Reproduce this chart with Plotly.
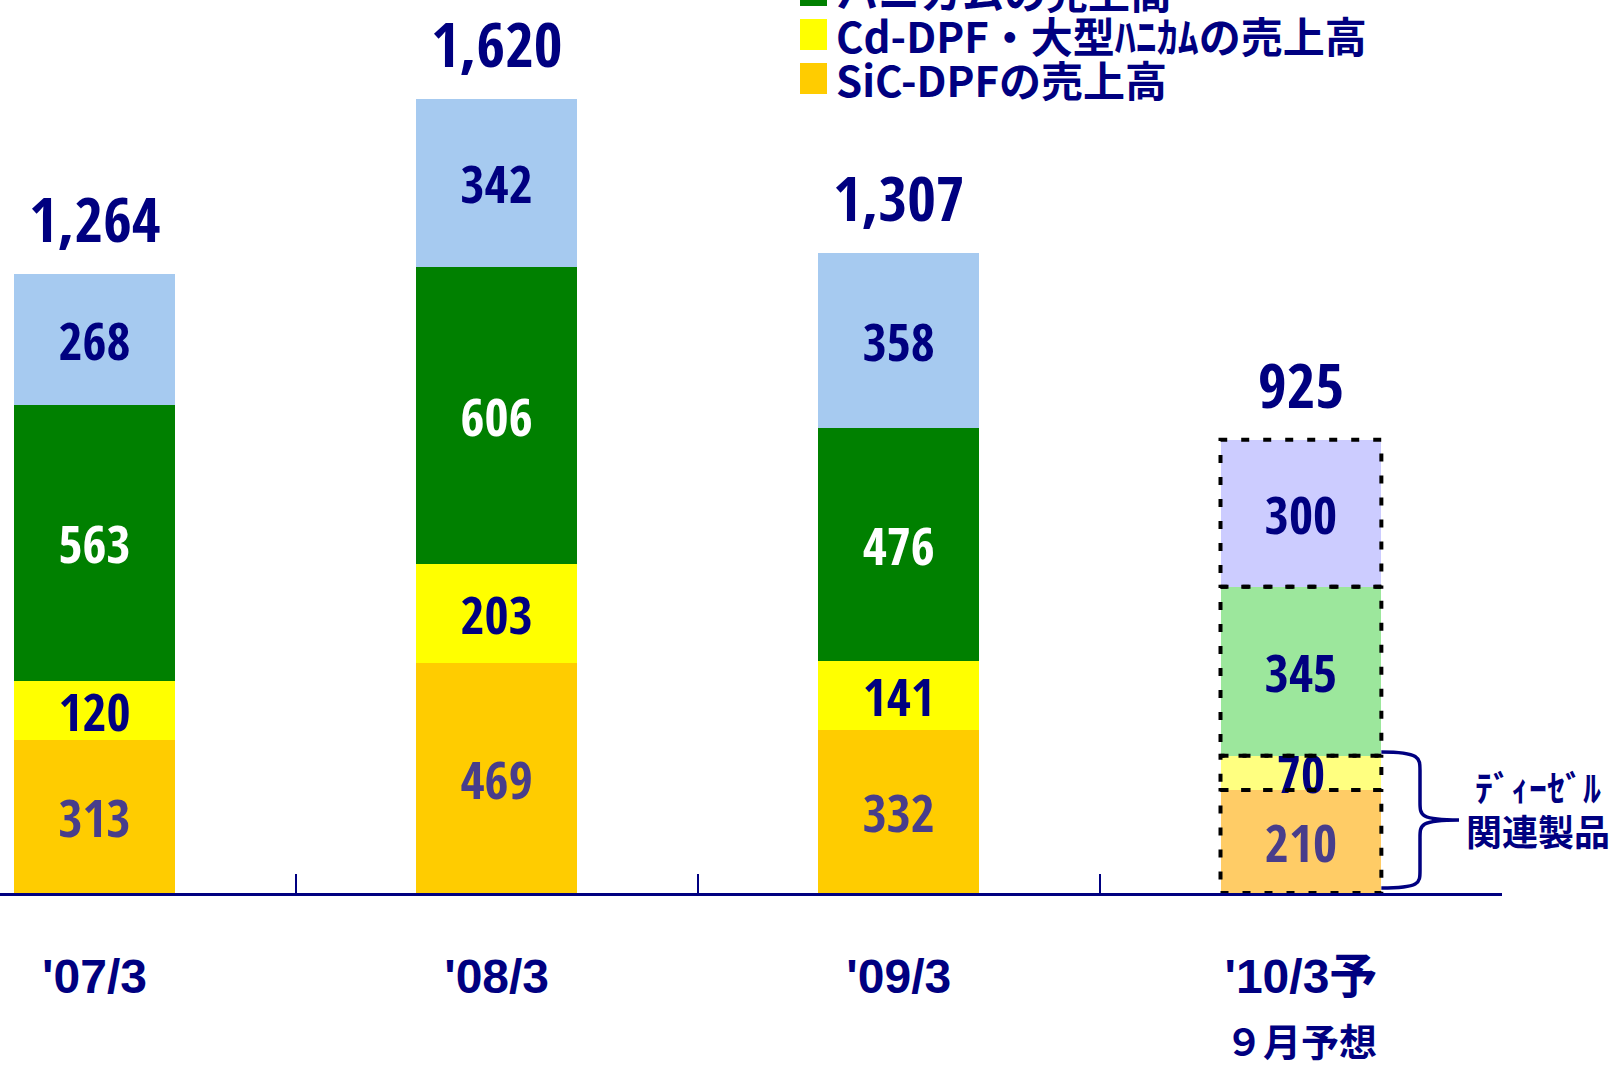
import plotly.graph_objects as go

categories = ["'07/3", "'08/3", "'09/3", "'10/3予"]
tick_labels = ["'07/3", "'08/3", "'09/3",
               "'10/3予<br><span style='font-size:38px'>９月予想</span>"]

sic_dpf = [313, 469, 332, 210]
cd_dpf = [120, 203, 141, 70]
honeycomb = [563, 606, 476, 345]
other = [268, 342, 358, 300]

series_names = ["SiC-DPFの売上高", "Cd-DPF・大型ﾊﾆｶﾑの売上高", "ハニカムの売上高", "その他の売上高"]
series_values = [sic_dpf, cd_dpf, honeycomb, other]
base_colors = ["#FFCC00", "#FFFF00", "#008000", "#A6CAF0"]
forecast_colors = ["#FFCC66", "#FFFF80", "#9CE79C", "#CCCCFF"]
text_colors = [
    ["#483D8B"] * 4,
    ["#000080"] * 4,
    ["white", "white", "white", "#000080"],
    ["#000080"] * 4,
]

totals = [sum(v) for v in zip(*series_values)]

NAVY = "#000080"
NUM_FONT = "Open Sans Condensed, Roboto Condensed, sans-serif"
JP_FONT = "Noto Sans CJK JP"

W, H = 1609, 1065
PLOT_W, PLOT_H = 1502, 893
X_RANGE = [-0.235, 3.5]
Y_MAX = PLOT_H / 0.49
BAR_W = 0.4

fig = go.Figure()

for name, vals, col, fcol, tcol in zip(series_names, series_values, base_colors,
                                      forecast_colors, text_colors):
    fig.add_trace(go.Bar(
        x=categories, y=vals, name=name,
        marker=dict(color=[col] * 3 + [fcol], line=dict(width=0)),
        width=BAR_W,
        text=vals, texttemplate="%{y}",
        textposition="inside", insidetextanchor="middle",
        textangle=0, constraintext="none",
        textfont=dict(family=NUM_FONT, size=52, color=tcol, weight="bold"),
        showlegend=False,
    ))

# dashed outline around each segment of the forecast bar
last = len(categories) - 1
bottom = 0
for vals in series_values:
    top = bottom + vals[last]
    fig.add_shape(type="rect", xref="x", yref="y",
                  x0=last - BAR_W / 2, x1=last + BAR_W / 2, y0=bottom, y1=top,
                  line=dict(color="black", width=4, dash="8px,14px"),
                  fillcolor="rgba(0,0,0,0)", layer="above")
    bottom = top

# totals above bars
for cat, tot in zip(categories, totals):
    fig.add_annotation(x=cat, y=tot, text=f"{tot:,}", showarrow=False,
                       yshift=56, yanchor="middle",
                       font=dict(family=NUM_FONT, size=62, color=NAVY, weight="bold"))


def px_to_paper_x(px):
    return px / PLOT_W


def px_to_paper_y(py):
    return 1 - py / PLOT_H


# brace for diesel related products (SiC + Cd of forecast)
x0 = (last + BAR_W / 2 - X_RANGE[0]) / (X_RANGE[1] - X_RANGE[0])
x1 = px_to_paper_x(1420)
x2 = px_to_paper_x(1459)
lo = 10
hi = sic_dpf[last] + cd_dpf[last] + 8
mid = (lo + hi) / 2
path = (f"M {x0},{hi} C {x1},{hi} {x1},{hi - 12} {x1},{hi - 38} "
        f"L {x1},{mid + 36} C {x1},{mid + 10} {x1},{mid} {x2},{mid} "
        f"C {x1},{mid} {x1},{mid - 10} {x1},{mid - 36} "
        f"L {x1},{lo + 36} C {x1},{lo + 10} {x1},{lo} {x0},{lo}")
fig.add_shape(type="path", xref="paper", yref="y", path=path,
              line=dict(color=NAVY, width=3.5))
for txt, py in [("ﾃﾞｨｰｾﾞﾙ", 786), ("関連製品", 830)]:
    fig.add_annotation(x=px_to_paper_x(1538), xref="paper",
                       y=px_to_paper_y(py), yref="paper",
                       text=txt, showarrow=False,
                       xanchor="center", yanchor="middle",
                       font=dict(family=JP_FONT, size=36, color=NAVY, weight="bold"))

# legend (top rows cut off by the page edge)
row_centers = [78.5, 34.5, -9.5, -53.5]
for name, col, cy in zip(series_names, base_colors, row_centers):
    fig.add_shape(type="rect", xref="paper", yref="paper",
                  x0=px_to_paper_x(800), x1=px_to_paper_x(827),
                  y0=px_to_paper_y(cy + 15.5), y1=px_to_paper_y(cy - 15.5),
                  fillcolor=col, line=dict(width=0))
    fig.add_annotation(x=px_to_paper_x(834), xref="paper",
                       y=px_to_paper_y(cy), yref="paper",
                       text=name, showarrow=False, xanchor="left", yanchor="middle",
                       font=dict(family=JP_FONT, size=42, color=NAVY, weight="bold"))

fig.update_layout(
    barmode="stack",
    width=W, height=H,
    margin=dict(l=0, r=W - PLOT_W, t=0, b=H - PLOT_H, autoexpand=False),
    plot_bgcolor="white", paper_bgcolor="white",
    showlegend=False,
)
fig.update_xaxes(
    type="category", range=X_RANGE,
    tickvals=categories, ticktext=tick_labels,
    tickson="boundaries", ticks="inside", ticklen=19, tickwidth=1.5, tickcolor=NAVY,
    showline=True, linecolor=NAVY, linewidth=2.5,
    showgrid=False, zeroline=False,
    ticklabelstandoff=40,
    tickfont=dict(family="Liberation Sans, Arial, Noto Sans CJK JP", size=48,
                  color=NAVY, weight="bold"),
)
fig.update_yaxes(range=[0, Y_MAX], visible=False, showgrid=False, zeroline=False)

fig.write_html("out.html", config={"displayModeBar": False},
               post_script="document.body.style.margin='0';document.body.style.overflow='hidden';")
